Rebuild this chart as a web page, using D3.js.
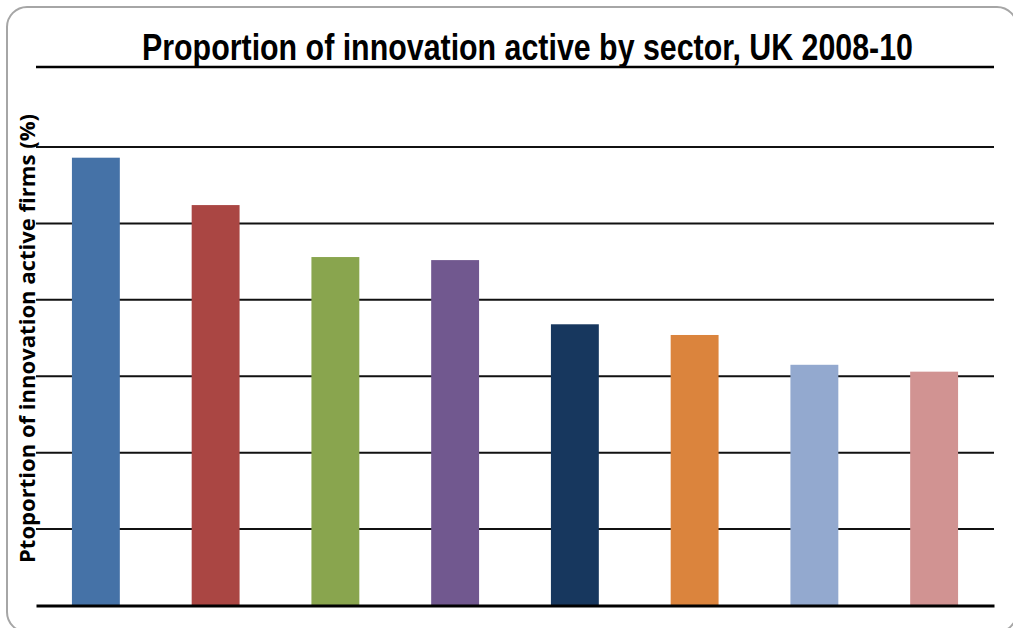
<!DOCTYPE html>
<html>
<head>
<meta charset="utf-8">
<script src="https://cdn.jsdelivr.net/npm/d3@7"></script>
<style>
  html, body { margin: 0; padding: 0; background: #fff; }
  svg { display: block; }
</style>
</head>
<body>
<svg id="chart" width="1013" height="628"></svg>
<script>
// Data
const categories = ["S1", "S2", "S3", "S4", "S5", "S6", "S7", "S8"];
const values = [58.6, 52.4, 45.6, 45.2, 36.8, 35.4, 31.5, 30.6];
const colors = ["#4572A7", "#AA4643", "#89A54E", "#71588F", "#17375E", "#DB843D", "#93A9CF", "#D19392"];
const yTicks = [0, 10, 20, 30, 40, 50, 60];
const titleText = "Proportion of innovation active by sector, UK 2008-10";
const yLabel = "Ptoportion of innovation active firms (%)";

const svg = d3.select("#chart");

// outer rounded frame
svg.append("rect")
  .attr("x", 7).attr("y", 7)
  .attr("width", 1010).attr("height", 625)
  .attr("rx", 20).attr("ry", 20)
  .attr("fill", "#fff")
  .attr("stroke", "#a6a6a6")
  .attr("stroke-width", 2);

const plotLeft = 36, plotRight = 994, plotTop = 147, plotBottom = 605.5;

const x = d3.scaleBand().domain(categories).range([plotLeft, plotRight]).paddingInner(0.6).paddingOuter(0.3);
const y = d3.scaleLinear().domain([0, 60]).range([plotBottom, plotTop]);

// gridlines
const grid = svg.append("g");
grid.selectAll("line").data(yTicks.filter(d => d > 0)).join("line")
  .attr("x1", plotLeft).attr("x2", plotRight)
  .attr("y1", d => y(d)).attr("y2", d => y(d))
  .attr("stroke", "#111").attr("stroke-width", 2);

// top rule under title
svg.append("line")
  .attr("x1", plotLeft).attr("x2", plotRight)
  .attr("y1", 67).attr("y2", 67)
  .attr("stroke", "#000").attr("stroke-width", 2.5);

// bars
svg.append("g").selectAll("rect").data(values).join("rect")
  .attr("x", (d, i) => x(categories[i]))
  .attr("width", x.bandwidth())
  .attr("y", d => y(d))
  .attr("height", d => y(0) - y(d))
  .attr("fill", (d, i) => colors[i]);

// baseline axis
const xAxis = d3.axisBottom(x).tickSize(0).tickFormat("");
const ax = svg.append("g").attr("transform", `translate(0,${plotBottom})`).call(xAxis);
ax.select(".domain").attr("stroke", "#000").attr("stroke-width", 3);

// title
svg.append("text")
  .attr("x", 527.5).attr("y", 60)
  .attr("text-anchor", "middle")
  .attr("font-family", "'Liberation Sans Narrow', 'Arial Narrow', 'Liberation Sans', Arial, sans-serif")
  .attr("font-weight", "bold")
  .attr("font-size", 37)
  .attr("textLength", 771)
  .attr("lengthAdjust", "spacingAndGlyphs")
  .attr("fill", "#000")
  .text(titleText);

// y label
svg.append("text")
  .attr("transform", "translate(35,338.5) rotate(-90)")
  .attr("text-anchor", "middle")
  .attr("font-family", "'Open Sans', 'DejaVu Sans', sans-serif")
  .attr("font-weight", "bold")
  .attr("font-size", 21)
  .attr("textLength", 449)
  .attr("lengthAdjust", "spacingAndGlyphs")
  .attr("fill", "#000")
  .text(yLabel);
</script>
</body>
</html>
